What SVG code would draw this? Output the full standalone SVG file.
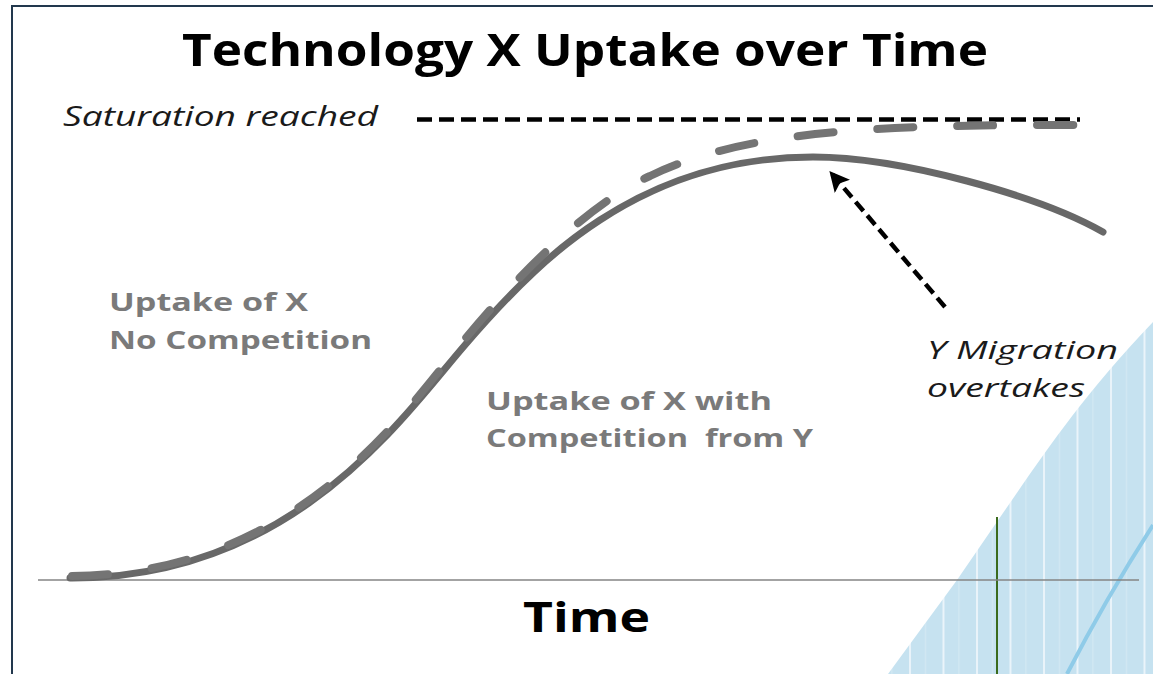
<svg xmlns="http://www.w3.org/2000/svg" width="1153" height="674" viewBox="0 0 1153 674">
<style>
.title{font-family:"Open Sans","Liberation Sans",sans-serif;font-weight:bold;fill:#000}
.ital{font-family:"Open Sans","Liberation Sans",sans-serif;font-style:italic;fill:#1a1a1a}
.lbl{font-family:"Open Sans","Liberation Sans",sans-serif;font-weight:bold;fill:#7a7a7a}
.solid{fill:none;stroke:#686868;stroke-width:7;stroke-linecap:round}
.dash{fill:none;stroke:#747474;stroke-width:8;stroke-linecap:round;stroke-dasharray:36 44}
</style>
<defs>
<pattern id="stripes" patternUnits="userSpaceOnUse" x="908" y="0" width="33.5" height="674">
<rect x="0" y="0" width="33.5" height="674" fill="#c6e2f0"/>
<rect x="1" y="0" width="2" height="674" fill="#eaf4fa"/>
<rect x="17" y="0" width="1" height="674" fill="#d6ebf5"/>
</pattern>
<marker id="ah" viewBox="0 0 10 10" refX="8" refY="5" markerWidth="4.5" markerHeight="4.5" orient="auto" markerUnits="strokeWidth">
<path d="M0,0 L10,5 L0,10 L2,5 Z" fill="#000"/>
</marker>
</defs>
<rect width="1153" height="674" fill="#fff"/>
<g id="frame" fill="none" stroke="#22384d" stroke-width="2">
<path d="M12,674 L12,6 L1153,6"/>
</g>
<g id="migration-area">
<path d="M888,674 L957,580 L1003,513 C1040,460 1080,398 1153,322 L1153,674 Z" fill="url(#stripes)"/>
<path d="M1067,674 Q1105,600 1153,525" fill="none" stroke="#8fcbe8" stroke-width="4"/>
<line x1="997" y1="517" x2="997" y2="674" stroke="#3b6a1d" stroke-width="2"/>
</g>
<g id="axis">
<line x1="38" y1="580" x2="1139" y2="580" stroke="#858585" stroke-width="1.5"/>
</g>
<g id="saturation-line">
<line x1="417" y1="119.5" x2="1080" y2="119.5" stroke="#000" stroke-width="4.5" stroke-dasharray="15 7"/>
</g>
<g id="curve-competition">
<path class="solid" d="M70,578 C295,579 405,414 465,345 C515,287 555,249 600,220 C670,174.5 740,157 813,157 C900,157 1040,196 1103,232"/>
</g>
<g id="curve-no-competition">
<path class="dash" stroke-dashoffset="-4" d="M68,576 C288,576 396,424 456,350 C516,276 588,204 650,176 C750,127 900,125 1075,125"/>
</g>
<g id="connectors">
<line x1="945" y1="307" x2="832" y2="174" stroke="#000" stroke-width="4.5" stroke-dasharray="12 6" marker-end="url(#ah)"/>
</g>
<g id="title">
<text class="title" x="182" y="66" font-size="45" textLength="806" lengthAdjust="spacingAndGlyphs">Technology X Uptake over Time</text>
</g>
<g id="label-saturation">
<text class="ital" x="63" y="126" font-size="27" textLength="315" lengthAdjust="spacingAndGlyphs">Saturation reached</text>
</g>
<g id="label-no-competition">
<text class="lbl" x="109" y="311" font-size="25" textLength="199" lengthAdjust="spacingAndGlyphs">Uptake of X</text>
<text class="lbl" x="109" y="349" font-size="25" textLength="263" lengthAdjust="spacingAndGlyphs">No Competition</text>
</g>
<g id="label-competition">
<text class="lbl" x="486" y="410" font-size="25" textLength="286" lengthAdjust="spacingAndGlyphs">Uptake of X with</text>
<text class="lbl" x="486" y="447" font-size="25" textLength="327" lengthAdjust="spacingAndGlyphs" xml:space="preserve">Competition  from Y</text>
</g>
<g id="label-migration">
<text class="ital" x="927" y="359" font-size="25" textLength="191" lengthAdjust="spacingAndGlyphs">Y Migration</text>
<text class="ital" x="927" y="397" font-size="25" textLength="158" lengthAdjust="spacingAndGlyphs">overtakes</text>
</g>
<g id="label-time">
<text class="title" x="523" y="632" font-size="42" textLength="127" lengthAdjust="spacingAndGlyphs">Time</text>
</g>
</svg>
